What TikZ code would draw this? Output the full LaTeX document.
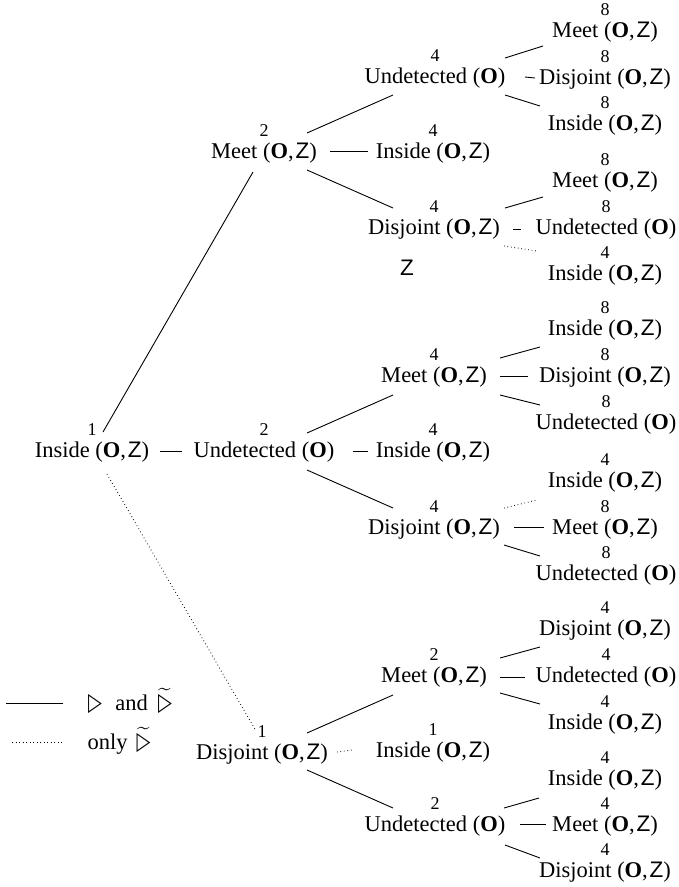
\documentclass[tikz,border=0pt]{standalone}
\usepackage{fontspec}
\usepackage{amssymb}
\usepackage{graphicx}
\setmainfont{Liberation Serif}
\newfontfamily\zsans{Liberation Sans}
\newfontfamily\symsans{DejaVu Sans}
\usetikzlibrary{calc}
\newcommand\mainsize{\fontsize{22.5}{27}\selectfont}
\newcommand\numsize{\fontsize{18}{21}\selectfont}
\newcommand\pO{(\textbf{O})}
\newcommand\pOZ{(\textbf{O},\kern0.08em{\zsans Z})}
% relation triangle, plain and with a tilde
\newcommand\tri{\scalebox{0.72}[1]{\symsans\fontsize{25}{28}\selectfont ▷}}
\newcommand\ttri{$\widetilde{\hbox{\tri}}$}
% \branch[style]{from}{offset}{to}{offset}
\newcommand\branch[5][ln]{\draw[#1] ($(#2)+(#3)$) -- ($(#4)+(#5)$);}

\begin{document}
\begin{tikzpicture}[x=1pt,y=-1pt,
  st/.style={inner sep=0pt, text height=15pt, text depth=0pt, font=\mainsize},
  n/.style={label={[font=\numsize, inner sep=0pt, label distance=6.5pt]above:#1}},
  ln/.style={line width=0.9pt},
  dl/.style={line width=0.9pt, dash pattern=on 0.7pt off 2.8pt},
]
\useasboundingbox (0,0) rectangle (678,887);

% level 0 and 1
\node[st,n=1] (root) at (92,450) {Inside \pOZ};
\node[st,n=2] (m1) at (264,151) {Meet \pOZ};
\node[st,n=2] (u1) at (264,450) {Undetected \pO};
\node[st,n=1] (d1) at (262,752) {Disjoint \pOZ};

% level 2
\node[st,n=4] (a2) at (435,76)  {Undetected \pO};
\node[st,n=4] (b2) at (433,151) {Inside \pOZ};
\node[st,n=4] (c2) at (434,227) {Disjoint \pOZ};
\node[st,n=4] (e2) at (434,375) {Meet \pOZ};
\node[st,n=4] (f2) at (433,450) {Inside \pOZ};
\node[st,n=4] (g2) at (434,527) {Disjoint \pOZ};
\node[st,n=2] (h2) at (434,675) {Meet \pOZ};
\node[st,n=1] (i2) at (433,750) {Inside \pOZ};
\node[st,n=2] (j2) at (435,824) {Undetected \pO};

% level 3
\node[st,n=8] (a3) at (605,30)  {Meet \pOZ};
\node[st,n=8] (a4) at (605,77)  {Disjoint \pOZ};
\node[st,n=8] (a5) at (605,123) {Inside \pOZ};
\node[st,n=8] (c3) at (605,180) {Meet \pOZ};
\node[st,n=8] (c4) at (606,227) {Undetected \pO};
\node[st,n=4] (c5) at (605,273) {Inside \pOZ};
\node[st,n=8] (e3) at (605,328) {Inside \pOZ};
\node[st,n=8] (e4) at (605,375) {Disjoint \pOZ};
\node[st,n=8] (e5) at (606,422) {Undetected \pO};
\node[st,n=4] (g3) at (605,480) {Inside \pOZ};
\node[st,n=8] (g4) at (605,527) {Meet \pOZ};
\node[st,n=8] (g5) at (606,573) {Undetected \pO};
\node[st,n=4] (h3) at (605,628) {Disjoint \pOZ};
\node[st,n=4] (h4) at (606,675) {Undetected \pO};
\node[st,n=4] (h5) at (605,722) {Inside \pOZ};
\node[st,n=4] (j3) at (605,778) {Inside \pOZ};
\node[st,n=4] (j4) at (605,824) {Meet \pOZ};
\node[st,n=4] (j5) at (605,870) {Disjoint \pOZ};

\node[st,font=\mainsize\zsans] (zz) at (407,268) {Z};

% connectors from the root
\branch{root}{11,-18}{m1}{-11,21}
\branch{root}{68,1}{u1}{-82,1}
\branch[dl]{root}{15,24}{d1}{-6,-21}

% level 1 to level 2
\branch{m1}{43,-18}{a2}{-42,19}
\branch{m1}{66,0}{b2}{-65,0}
\branch{m1}{43,19}{c2}{-41,-19}
\branch{u1}{43,-17}{e2}{-41,20}
\branch{u1}{89,1}{f2}{-65,1}
\branch{u1}{43,20}{g2}{-41,-19}
\branch{d1}{45,-19}{h2}{-41,20}
\branch[dl]{d1}{75,0}{i2}{-81,0}
\branch{d1}{45,18}{j2}{-42,-16}

% level 2 to level 3
\branch{a2}{70,-18}{a3}{-62,16}
\branch{a2}{90,1}{a4}{-70,1}
\branch{a2}{70,19}{a5}{-65,-17}
\branch{c2}{71,-19}{c3}{-62,17}
\branch{c2}{79,2}{c4}{-85,2}
\branch[dl]{c2}{70,19}{c5}{-68,-22}
\branch{e2}{66,-17}{e3}{-65,19}
\branch{e2}{66,1}{e4}{-77,1}
\branch{e2}{66,20}{e5}{-66,-17}
\branch[dl]{g2}{70,-19}{g3}{-68,20}
\branch{g2}{80,0}{g4}{-61,0}
\branch{g2}{70,18}{g5}{-66,-17}
\branch{h2}{66,-17}{h3}{-65,19}
\branch{h2}{66,2}{h4}{-81,2}
\branch{h2}{66,18}{h5}{-65,-18}
\branch{j2}{69,-16}{j3}{-66,20}
\branch{j2}{85,0}{j4}{-59,0}
\branch{j2}{70,21}{j5}{-65,-12}

% legend
\coordinate (ls1) at (6,703);
\coordinate (le1) at (63,703);
\coordinate (ls2) at (12,742);
\coordinate (le2) at (62,742);
\draw[ln] (ls1) -- (le1);
\draw[dl] (ls2) -- (le2);
\node[st] (lega) at (130,703) {\tri\hspace{0.6em}and\hspace{0.45em}\ttri};
\node[st] (legb) at (119,742) {only\hspace{0.4em}\ttri};
\end{tikzpicture}
\end{document}
